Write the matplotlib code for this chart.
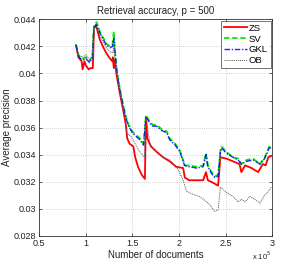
import matplotlib
matplotlib.use("Agg")
import matplotlib.pyplot as plt

plt.rcParams['font.family'] = ['Liberation Sans', 'DejaVu Sans']

# x values in units of 1e5 documents
zs_x = [0.894, 0.92, 0.955, 0.965, 0.985, 1.0, 1.03, 1.05, 1.075, 1.087, 1.108, 1.15, 1.19, 1.22,
        1.26, 1.285, 1.29, 1.30, 1.31, 1.33, 1.366, 1.40, 1.43, 1.444, 1.47, 1.51, 1.53, 1.56,
        1.60, 1.634, 1.645, 1.66, 1.70, 1.76, 1.83, 1.90, 1.97, 2.045, 2.063, 2.11, 2.19, 2.26,
        2.29, 2.31, 2.37, 2.42, 2.445, 2.51, 2.58, 2.65, 2.67, 2.71, 2.78, 2.85, 2.90, 2.93,
        2.96, 2.99]
zs_y = [0.0421, 0.0412, 0.0409, 0.0403, 0.0409, 0.0406, 0.0403, 0.0404, 0.0404, 0.0433, 0.0436,
        0.0425, 0.0419, 0.0415, 0.0411, 0.0409, 0.0412, 0.0404, 0.0410, 0.0399, 0.0385, 0.0373,
        0.0362, 0.0352, 0.0348, 0.0346, 0.0338, 0.0331, 0.0325, 0.0322, 0.0368, 0.0352, 0.0346,
        0.0342, 0.0338, 0.0335, 0.0331, 0.0330, 0.0323, 0.0321, 0.0321, 0.0321, 0.0327, 0.0321,
        0.0319, 0.0317, 0.0338, 0.0337, 0.0335, 0.0333, 0.0327, 0.0332, 0.0330, 0.0327, 0.0333,
        0.0332, 0.0338, 0.0339]

sv_x = [0.894, 0.92, 0.94, 0.97, 1.0, 1.04, 1.07, 1.087, 1.116, 1.15, 1.19, 1.22, 1.26, 1.285,
        1.30, 1.31, 1.33, 1.35, 1.37, 1.40, 1.43, 1.46, 1.50, 1.53, 1.58, 1.62, 1.645, 1.69,
        1.72, 1.76, 1.81, 1.87, 1.90, 1.96, 2.01, 2.045, 2.06, 2.11, 2.19, 2.26, 2.29, 2.31,
        2.35, 2.385, 2.42, 2.445, 2.457, 2.51, 2.58, 2.635, 2.67, 2.725, 2.795, 2.87, 2.92,
        2.97, 2.99]
sv_y = [0.04216, 0.0414, 0.0412, 0.0411, 0.0412, 0.0409, 0.0413, 0.0436, 0.0438, 0.0431, 0.0426,
        0.0422, 0.0420, 0.0421, 0.0431, 0.0419, 0.0404, 0.0395, 0.0387, 0.0377, 0.0368, 0.0362,
        0.0357, 0.0355, 0.0352, 0.0348, 0.0369, 0.0364, 0.0362, 0.0362, 0.0359, 0.0357, 0.0352,
        0.0348, 0.0343, 0.0336, 0.0332, 0.0332, 0.0331, 0.0332, 0.0341, 0.0332, 0.0327, 0.0324,
        0.0325, 0.0343, 0.0346, 0.0342, 0.0338, 0.0337, 0.0333, 0.0336, 0.0337, 0.0333, 0.0338,
        0.0346, 0.0346]

gkl_x = sv_x
gkl_y = [0.04210, 0.0413, 0.0411, 0.0410, 0.0411, 0.0408, 0.0412, 0.0434, 0.0436, 0.0430, 0.0425,
         0.0421, 0.0419, 0.0420, 0.0426, 0.0418, 0.0403, 0.0394, 0.0386, 0.0376, 0.0367, 0.0361,
         0.0356, 0.0354, 0.0351, 0.0347, 0.0368, 0.0363, 0.0361, 0.0361, 0.0358, 0.0356, 0.0351,
         0.0347, 0.0342, 0.0335, 0.0332, 0.0331, 0.0330, 0.0331, 0.0340, 0.0331, 0.0326, 0.0323,
         0.0324, 0.0342, 0.0345, 0.0341, 0.0338, 0.0336, 0.0333, 0.0335, 0.0336, 0.0333, 0.0337,
         0.0345, 0.0345]

ob_x = [0.894, 0.92, 0.94, 0.97, 1.0, 1.04, 1.07, 1.087, 1.11, 1.15, 1.19, 1.22, 1.26, 1.29,
        1.30, 1.31, 1.33, 1.37, 1.40, 1.44, 1.49, 1.53, 1.58, 1.63, 1.645, 1.69, 1.76, 1.83,
        1.90, 1.94, 1.99, 2.045, 2.08, 2.135, 2.22, 2.28, 2.33, 2.385, 2.42, 2.445, 2.51, 2.58,
        2.635, 2.67, 2.71, 2.76, 2.81, 2.87, 2.92, 2.975, 2.99]
ob_y = [0.0421, 0.0413, 0.0413, 0.0412, 0.0414, 0.0410, 0.0412, 0.0433, 0.0435, 0.0428, 0.0423,
        0.0419, 0.0416, 0.0415, 0.0420, 0.0410, 0.0400, 0.0385, 0.0375, 0.0356, 0.0353, 0.0348,
        0.0342, 0.0338, 0.0368, 0.0347, 0.0342, 0.0338, 0.0336, 0.0333, 0.0329, 0.0321, 0.0313,
        0.0311, 0.0309, 0.0306, 0.0303, 0.0298, 0.0299, 0.0316, 0.0312, 0.0309, 0.0305, 0.0307,
        0.0305, 0.0309, 0.0307, 0.0304, 0.0310, 0.0314, 0.0316]

x_ticks = [0.5, 1, 1.5, 2, 2.5, 3]
x_labels = ['0.5', '1', '1.5', '2', '2.5', '3']
y_ticks = [0.028, 0.030, 0.032, 0.034, 0.036, 0.038, 0.040, 0.042, 0.044]
y_labels = ['0.028', '0.03', '0.032', '0.034', '0.036', '0.038', '0.04', '0.042', '0.044']

fig = plt.figure(figsize=(3.0, 2.66), dpi=100)
ax = fig.add_axes([0.131, 0.114, 0.776, 0.813])

ax.plot(zs_x, zs_y, color='#ff0000', lw=1.3, ls='-', label='ZS')
ax.plot(sv_x, sv_y, color='#00ee00', lw=1.3, ls=(0, (3, 1.5)), label='SV')
ax.plot(gkl_x, gkl_y, color='#0000ff', lw=1.0, ls=(0, (4, 1.2, 1, 1.2)), label='GKL', alpha=0.85)
ax.plot(ob_x, ob_y, color='#555555', lw=0.7, ls=(0, (1, 1)), label='OB')

ax.set_xlim(0.5, 3)
ax.set_ylim(0.028, 0.044)
ax.set_xticks(x_ticks)
ax.set_xticklabels(x_labels)
ax.set_yticks(y_ticks)
ax.set_yticklabels(y_labels)
ax.tick_params(direction='in', length=2.5, width=0.5, labelsize=6.5, top=True, right=True,
               colors='#222222', pad=2.5)
ax.grid(True, ls=(0, (1, 2)), color='#aaaaaa', lw=0.5)
for s in ax.spines.values():
    s.set_linewidth(0.6)
    s.set_color('#333333')

ax.set_title('Retrieval accuracy, p = 500', fontsize=7, pad=4, color='#222222')
ax.set_xlabel('Number of documents', fontsize=7, labelpad=1, color='#222222')
ax.set_ylabel('Average precision', fontsize=7, labelpad=1, color='#222222')
fig.text(0.905, 0.04, 'x 10$^5$', fontsize=5.5, ha='right', va='center', color='#222222')

leg = ax.legend(loc='upper right', fontsize=6.8, frameon=True, fancybox=False,
                edgecolor='#333333', handlelength=2.4, handletextpad=0.2,
                borderpad=0.3, labelspacing=0.2, borderaxespad=0.15)
leg.get_frame().set_linewidth(0.6)

fig.savefig('out.png', dpi=100)
